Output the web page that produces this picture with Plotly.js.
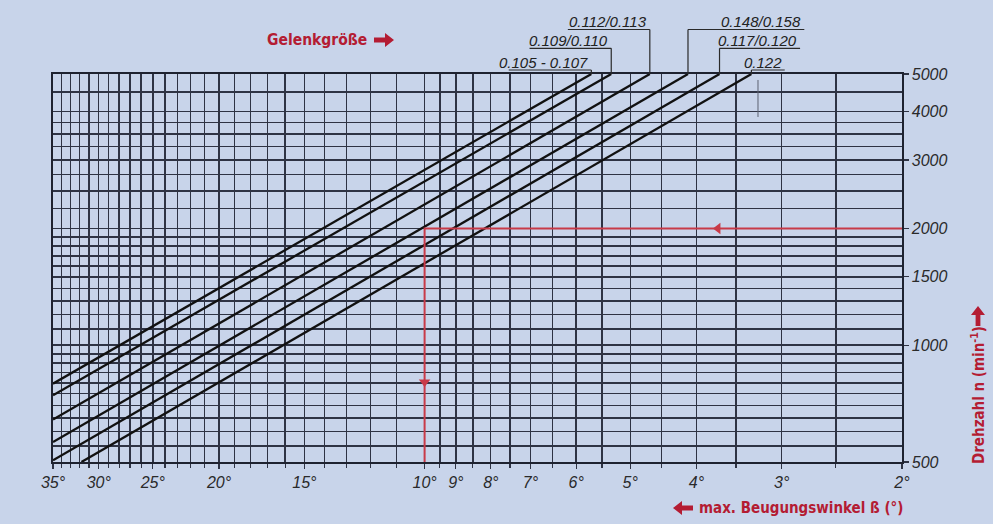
<!DOCTYPE html>
<html>
<head>
<meta charset="utf-8">
<script src="https://cdn.plot.ly/plotly-3.0.1.min.js"></script>
<style>
  html, body { margin: 0; padding: 0; background: #c8d4ea; }
  #chart { width: 993px; height: 524px; }
</style>
</head>
<body>
<div id="chart"></div>
<script>
// ---------- data ----------
const sizeLabels = ['0.105 - 0.107', '0.109/0.110', '0.112/0.113', '0.148/0.158', '0.117/0.120', '0.122'];
const startAngle = [35, 35, 35, 35, 35, 31.8];
const startRpm   = [796, 743, 643, 563, 505, 500];
const endAngle   = [5.70, 5.33, 4.68, 4.115, 3.70, 3.323];
const endRpm     = [5000, 5000, 5000, 5000, 5000, 5000];

const xTickVals = [35, 30, 25, 20, 15, 10, 9, 8, 7, 6, 5, 4, 3, 2];
const xTickText = ['35°', '30°', '25°', '20°', '15°', '10°', '9°', '8°', '7°', '6°', '5°', '4°', '3°', '2°'];
const yTickVals = [500, 1000, 1500, 2000, 3000, 4000, 5000];
const yTickText = ['500', '1000', '1500', '2000', '3000', '4000', '5000'];

const xGrid = [34, 33, 32, 31, 29, 28, 27, 26, 24, 23, 22, 21, 19, 18, 17, 16, 14, 13, 12, 11,
               9.5, 8.5, 7.5, 6.5, 5.5, 4.5, 3.5, 2.5];
const yGrid = [550, 600, 650, 700, 750, 800, 850, 900, 950, 1100, 1200, 1300, 1400, 1600, 1700, 1800, 1900,
               2250, 2500, 2750, 3250, 3500, 3750, 4500];

// example reading: 2000 min^-1 -> 10°
const guideAngle = [2, 10, 10];
const guideRpm   = [2000, 2000, 500];
const arrowAngle = [3.72, 10];
const arrowRpm   = [2000, 804];
const arrowSymbol = ['triangle-left', 'triangle-down'];

// ---------- styles ----------
const BG = '#c8d4ea';
const GRID = '#2e3344';
const RED_TXT = '#b41c33';
const RED_LINE = '#c83a48';
const redFamily = "'Liberation Sans Narrow', 'DejaVu Sans Condensed', 'Liberation Sans', sans-serif";
const techFont = { family: "'Liberation Sans', Arial, sans-serif", size: 16, color: '#2a2a2a', style: 'italic' };

const traces = [];
for (let i = 0; i < sizeLabels.length; i++) {
  traces.push({
    type: 'scatter', mode: 'lines',
    x: [startAngle[i], endAngle[i]],
    y: [startRpm[i], endRpm[i]],
    name: sizeLabels[i],
    line: { color: '#111111', width: 2.3 },
    hoverinfo: 'skip'
  });
}
traces.push({
  type: 'scatter', mode: 'lines',
  x: guideAngle, y: guideRpm,
  line: { color: RED_LINE, width: 2 },
  hoverinfo: 'skip'
});
traces.push({
  type: 'scatter', mode: 'markers',
  x: arrowAngle, y: arrowRpm,
  marker: { symbol: arrowSymbol, size: 10, color: RED_LINE },
  hoverinfo: 'skip'
});

// ---------- page geometry (for decorations in paper coords) ----------
const M = { l: 53, r: 91, t: 74, b: 62 };
const W = 993, H = 524;
const PW = W - M.l - M.r, PH = H - M.t - M.b;
const px2x = px => (px - M.l) / PW;
const py2y = py => (H - M.b - py) / PH;

// heavy arrow drawn as a filled path, tail at (tx,ty) in page pixels, direction (dx,dy)
function heavyArrow(tx, ty, dx, dy, color) {
  const L = 20, t = 2.4, h = 9, w = 7;
  const local = [[0, -t], [L - h, -t], [L - h, -w], [L, 0], [L - h, w], [L - h, t], [0, t]];
  const pts = local.map(([a, b]) => {
    const X = tx + a * dx - b * dy;
    const Y = ty + a * dy + b * dx;
    return px2x(X).toFixed(5) + ',' + py2y(Y).toFixed(5);
  });
  return { type: 'path', xref: 'paper', yref: 'paper', path: 'M' + pts.join(' L') + ' Z',
           fillcolor: color, line: { width: 0 } };
}

// label layout (positions only)
const rowY = { 1: 1.1147, 2: 1.0662, 3: 1.0103 };
const labelRow = [3, 2, 1, 1, 2, 3];
const labelRight = [false, false, false, true, true, true];
const underlineEnd = [7.53, 7.02, 6.17, 2.78, 2.82, 2.97];

const shapes = [];
const annotations = [];
for (let i = 0; i < sizeLabels.length; i++) {
  const yy = rowY[labelRow[i]];
  shapes.push({ type: 'line', xref: 'x', yref: 'paper', x0: endAngle[i], x1: endAngle[i], y0: 1, y1: yy,
                line: { color: '#2a2a2a', width: 1.2 } });
  shapes.push({ type: 'line', xref: 'x', yref: 'paper', x0: endAngle[i], x1: underlineEnd[i], y0: yy, y1: yy,
                line: { color: '#2a2a2a', width: 1.2 } });
  const ax = labelRight[i] ? underlineEnd[i] : endAngle[i];
  annotations.push({
    xref: 'x', yref: 'paper', x: Math.log10(ax), y: yy,
    xanchor: 'right', yanchor: 'bottom', yshift: -3, xshift: -1,
    text: sizeLabels[i], showarrow: false,
    font: { family: techFont.family, size: 15, color: '#222', style: 'italic' }
  });
}
// stray pen mark in the original
shapes.push({ type: 'line', xref: 'x', yref: 'y', x0: 3.25, x1: 3.25, y0: 4826, y1: 3874,
              line: { color: '#5c6272', width: 1 } });

// heavy red arrows
shapes.push(heavyArrow(374, 40, 1, 0, RED_TXT));   // Gelenkgröße ->
shapes.push(heavyArrow(693, 508, -1, 0, RED_TXT)); // <- max. Beugungswinkel
shapes.push(heavyArrow(978, 326, 0, -1, RED_TXT)); // Drehzahl ^

annotations.push({
  xref: 'paper', yref: 'paper', x: px2x(369), y: py2y(40), xanchor: 'right', yanchor: 'middle',
  text: 'Gelenkgröße', showarrow: false,
  font: { family: redFamily, size: 15.5, color: RED_TXT, weight: 'bold' }
});
annotations.push({
  xref: 'paper', yref: 'paper', x: px2x(697), y: py2y(508), xanchor: 'left', yanchor: 'middle',
  text: 'max. Beugungswinkel ß (°)', showarrow: false,
  font: { family: redFamily, size: 15, color: RED_TXT, weight: 'bold' }
});
annotations.push({
  xref: 'paper', yref: 'paper', x: px2x(978), y: py2y(466), xanchor: 'center', yanchor: 'bottom',
  textangle: -90,
  text: 'Drehzahl n (min<sup>-1</sup>)', showarrow: false,
  font: { family: redFamily, size: 15, color: RED_TXT, weight: 'bold' }
});

const layout = {
  width: W, height: H,
  paper_bgcolor: BG, plot_bgcolor: BG,
  margin: M,
  showlegend: false,
  xaxis: {
    type: 'log', range: [Math.log10(35), Math.log10(2)],
    tickmode: 'array', tickvals: xTickVals, ticktext: xTickText,
    tickfont: techFont,
    showgrid: true, gridcolor: GRID, gridwidth: 1.4,
    ticks: 'outside', ticklen: 5, tickcolor: GRID, tickwidth: 1.2,
    minor: { tickmode: 'array', tickvals: xGrid, showgrid: true, gridcolor: GRID, gridwidth: 1.4,
             ticks: 'outside', ticklen: 4, tickcolor: GRID },
    showline: true, mirror: true, linecolor: '#1e2230', linewidth: 1.6,
    zeroline: false, fixedrange: true
  },
  yaxis: {
    type: 'log', range: [Math.log10(500), Math.log10(5000)], side: 'right',
    tickmode: 'array', tickvals: yTickVals, ticktext: yTickText,
    tickfont: techFont,
    showgrid: true, gridcolor: GRID, gridwidth: 1.5,
    ticks: 'outside', ticklen: 5, tickcolor: GRID, tickwidth: 1.2,
    minor: { tickmode: 'array', tickvals: yGrid, showgrid: true, gridcolor: GRID, gridwidth: 1.5,
             ticks: '' },
    showline: true, mirror: true, linecolor: '#1e2230', linewidth: 1.6,
    zeroline: false, fixedrange: true
  },
  shapes: shapes,
  annotations: annotations
};

Plotly.newPlot('chart', traces, layout, { staticPlot: true, displayModeBar: false });
</script>
</body>
</html>
